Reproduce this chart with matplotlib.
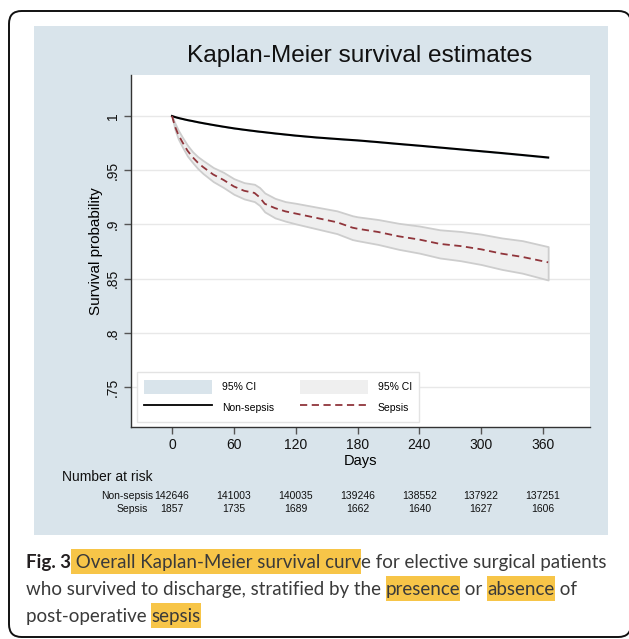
import matplotlib.pyplot as plt
import numpy as np
from matplotlib.patches import FancyBboxPatch, Rectangle, Patch
from matplotlib.lines import Line2D
import matplotlib.transforms as mtransforms

plt.rcParams['font.family'] = ['Liberation Sans', 'DejaVu Sans']

# data
days = [0, 3, 6, 10, 15, 20, 25, 30, 40, 50, 60, 70, 80, 85, 90, 100, 110, 120,
        140, 160, 175, 180, 200, 220, 240, 260, 280, 300, 320, 340, 365]
nonsep = [1.0, 0.9990, 0.9982, 0.9973, 0.9962, 0.9953, 0.9943, 0.9934, 0.9917, 0.9901,
          0.9886, 0.9873, 0.9861, 0.9855, 0.9850, 0.9839, 0.9829, 0.9819, 0.9802, 0.9788,
          0.9778, 0.9775, 0.9759, 0.9742, 0.9726, 0.9709, 0.9692, 0.9675, 0.9658, 0.9640, 0.9617]
nonsep_lo = [1.0, 0.9989, 0.9981, 0.9972, 0.9961, 0.9952, 0.9942, 0.9933, 0.9916, 0.9900,
             0.9885, 0.9872, 0.9860, 0.9854, 0.9849, 0.9838, 0.9828, 0.9818, 0.9801, 0.9786,
             0.9776, 0.9773, 0.9757, 0.9740, 0.9724, 0.9707, 0.9690, 0.9673, 0.9655, 0.9637, 0.9613]
nonsep_hi = [1.0, 0.9991, 0.9983, 0.9974, 0.9963, 0.9954, 0.9944, 0.9935, 0.9918, 0.9902,
             0.9887, 0.9874, 0.9862, 0.9856, 0.9851, 0.9840, 0.9830, 0.9820, 0.9803, 0.9790,
             0.9780, 0.9777, 0.9761, 0.9744, 0.9728, 0.9711, 0.9694, 0.9677, 0.9661, 0.9643, 0.9621]
sepsis = [1.0, 0.990, 0.983, 0.976, 0.968, 0.962, 0.957, 0.953, 0.946, 0.941,
          0.935, 0.931, 0.929, 0.925, 0.919, 0.915, 0.912, 0.910, 0.906, 0.902,
          0.897, 0.896, 0.893, 0.889, 0.886, 0.882, 0.880, 0.877, 0.873, 0.870, 0.865]
sepsis_lo = [1.0, 0.987, 0.979, 0.9715, 0.963, 0.957, 0.9515, 0.947, 0.9395, 0.934,
             0.9278, 0.9235, 0.921, 0.9175, 0.9115, 0.906, 0.903, 0.9005, 0.896, 0.8915,
             0.886, 0.885, 0.8815, 0.877, 0.8735, 0.869, 0.8665, 0.863, 0.8585, 0.855, 0.8487]
sepsis_hi = [1.0, 0.993, 0.987, 0.9805, 0.973, 0.967, 0.9625, 0.959, 0.9525, 0.948,
             0.9422, 0.9385, 0.937, 0.934, 0.929, 0.924, 0.921, 0.9195, 0.916, 0.9125,
             0.908, 0.907, 0.9045, 0.901, 0.8985, 0.895, 0.8935, 0.891, 0.8875, 0.885, 0.8795]

risk_days = [0, 60, 120, 180, 240, 300, 360]
risk_nonsep = ['142646', '141003', '140035', '139246', '138552', '137922', '137251']
risk_sepsis = ['1857', '1735', '1689', '1662', '1640', '1627', '1606']
yticks = [0.75, 0.8, 0.85, 0.9, 0.95, 1.0]
ytick_labels = ['.75', '.8', '.85', '.9', '.95', '1']

W, H = 629, 639
panel_col = '#d9e4eb'
red = '#90353b'


def fx(px):
    return px / W


def fy(py):
    return 1 - py / H


fig = plt.figure(figsize=(W / 100, H / 100), dpi=100)
fig.patch.set_facecolor('white')

# outer rounded border and light blue graph region
fig.patches.append(FancyBboxPatch((fx(9), fy(637)), fx(622), 626 / H,
                                  boxstyle='round,pad=0,rounding_size=0.02',
                                  transform=fig.transFigure, facecolor='white',
                                  edgecolor='#111111', lw=1.4, zorder=0))
fig.patches.append(Rectangle((fx(34), fy(535)), fx(574), 509 / H,
                             transform=fig.transFigure, facecolor=panel_col,
                             edgecolor='none', zorder=1))

ax = fig.add_axes([fx(131), fy(427), fx(459), 352 / H])
ax.set_zorder(2)
ax.set_facecolor('white')
ax.set_xlim(-39.8, 405.6)
ax.set_ylim(0.7131, 1.0378)

ax.fill_between(days, nonsep_lo, nonsep_hi, facecolor='#d2dfe8', edgecolor='#c3d3de',
                lw=0.8, zorder=2)
ax.fill_between(days, sepsis_lo, sepsis_hi, facecolor='#efefef', edgecolor='#cdcdcd',
                lw=1.3, zorder=2)
ax.plot(days, nonsep, color='black', lw=1.5, zorder=3)
ax.plot(days, sepsis, color=red, lw=1.3, ls=(0, (4, 2.5)), zorder=3)

ax.set_yticks(yticks)
ax.set_yticklabels(ytick_labels, rotation=90, va='center')
ax.set_xticks(risk_days)
ax.grid(axis='y', color='#e8e8e8', lw=1.0)
ax.set_axisbelow(True)
for s in ['top', 'right']:
    ax.spines[s].set_visible(False)
for s in ['left', 'bottom']:
    ax.spines[s].set_color('#333333')
    ax.spines[s].set_linewidth(1.0)
ax.tick_params(length=5, width=1, color='#555555', labelsize=10, labelcolor='#111111', pad=3)
ax.set_xlabel('Days', fontsize=10.5, labelpad=1)
ax.set_ylabel('Survival probability', fontsize=11, labelpad=2)

handles = [Patch(facecolor=panel_col, edgecolor='none'),
           Line2D([], [], color='black', lw=1.3),
           Patch(facecolor='#efefef', edgecolor='none'),
           Line2D([], [], color=red, lw=1.3, ls=(0, (4, 2.5)))]
labels = ['95% CI', 'Non-sepsis', '95% CI', 'Sepsis']
leg = ax.legend(handles, labels, ncol=2, loc='lower left', bbox_to_anchor=(0.013, 0.014),
                borderaxespad=0, fontsize=7.5, handlelength=6.5, handleheight=1.8,
                handletextpad=0.95, columnspacing=2.5, labelspacing=0.55, borderpad=0.7,
                fancybox=False, framealpha=1, edgecolor='#e3e3e3')
leg.get_frame().set_linewidth(1.0)

fig.text(fx(360), fy(56), 'Kaplan-Meier survival estimates', fontsize=17.6,
         ha='center', va='center', color='#111111', zorder=3)

# number at risk table
fig.text(fx(62), fy(477), 'Number at risk', fontsize=10, ha='left', va='center', color='#111111', zorder=3)
fig.text(fx(153), fy(496), 'Non-sepsis', fontsize=7.5, ha='right', va='center', color='#111111', zorder=3)
fig.text(fx(148), fy(509), 'Sepsis', fontsize=7.5, ha='right', va='center', color='#111111', zorder=3)
trans = mtransforms.blended_transform_factory(ax.transData, fig.transFigure)
for d, a, b in zip(risk_days, risk_nonsep, risk_sepsis):
    fig.text(d, fy(496), a, transform=trans, fontsize=7.5, ha='center', va='center', color='#111111', zorder=3)
    fig.text(d, fy(509), b, transform=trans, fontsize=7.5, ha='center', va='center', color='#111111', zorder=3)

# caption with highlighted words
hl = '#f7c548'
cap_font = ['Lato', 'DejaVu Sans']
lines = [
    [('Fig. 3', True, False), (' Overall Kaplan-Meier survival curv', False, True),
     ('e for elective surgical patients', False, False)],
    [('who survived to discharge, stratified by the ', False, False), ('presence', False, True),
     (' or ', False, False), ('absence', False, True), (' of', False, False)],
    [('post-operative ', False, False), ('sepsis', False, True)],
]
line_y = [561, 588, 615]

fig.canvas.draw()
renderer = fig.canvas.get_renderer()


def seg_width(txt, bold, size):
    t = fig.text(0, 0, txt, fontsize=size, family=cap_font,
                 fontweight='bold' if bold else 'normal')
    w = t.get_window_extent(renderer).width
    t.remove()
    return w


base = 13
w1 = sum(seg_width(s, b, base) for s, b, _ in lines[0])
cap_size = base * 580 / w1

for segs, yy in zip(lines, line_y):
    x = 26
    for s, b, h in segs:
        w = seg_width(s, b, cap_size)
        if h:
            fig.patches.append(Rectangle((fx(x), fy(yy + 12.5)), fx(w), 25 / H,
                                         transform=fig.transFigure, facecolor=hl,
                                         edgecolor='none', zorder=1))
        fig.text(fx(x), fy(yy), s, fontsize=cap_size, family=cap_font,
                 fontweight='bold' if b else 'normal', ha='left', va='center_baseline',
                 color='#231f20' if b else '#3a3a3a', zorder=3)
        x += w

fig.savefig('out.png', dpi=100)
